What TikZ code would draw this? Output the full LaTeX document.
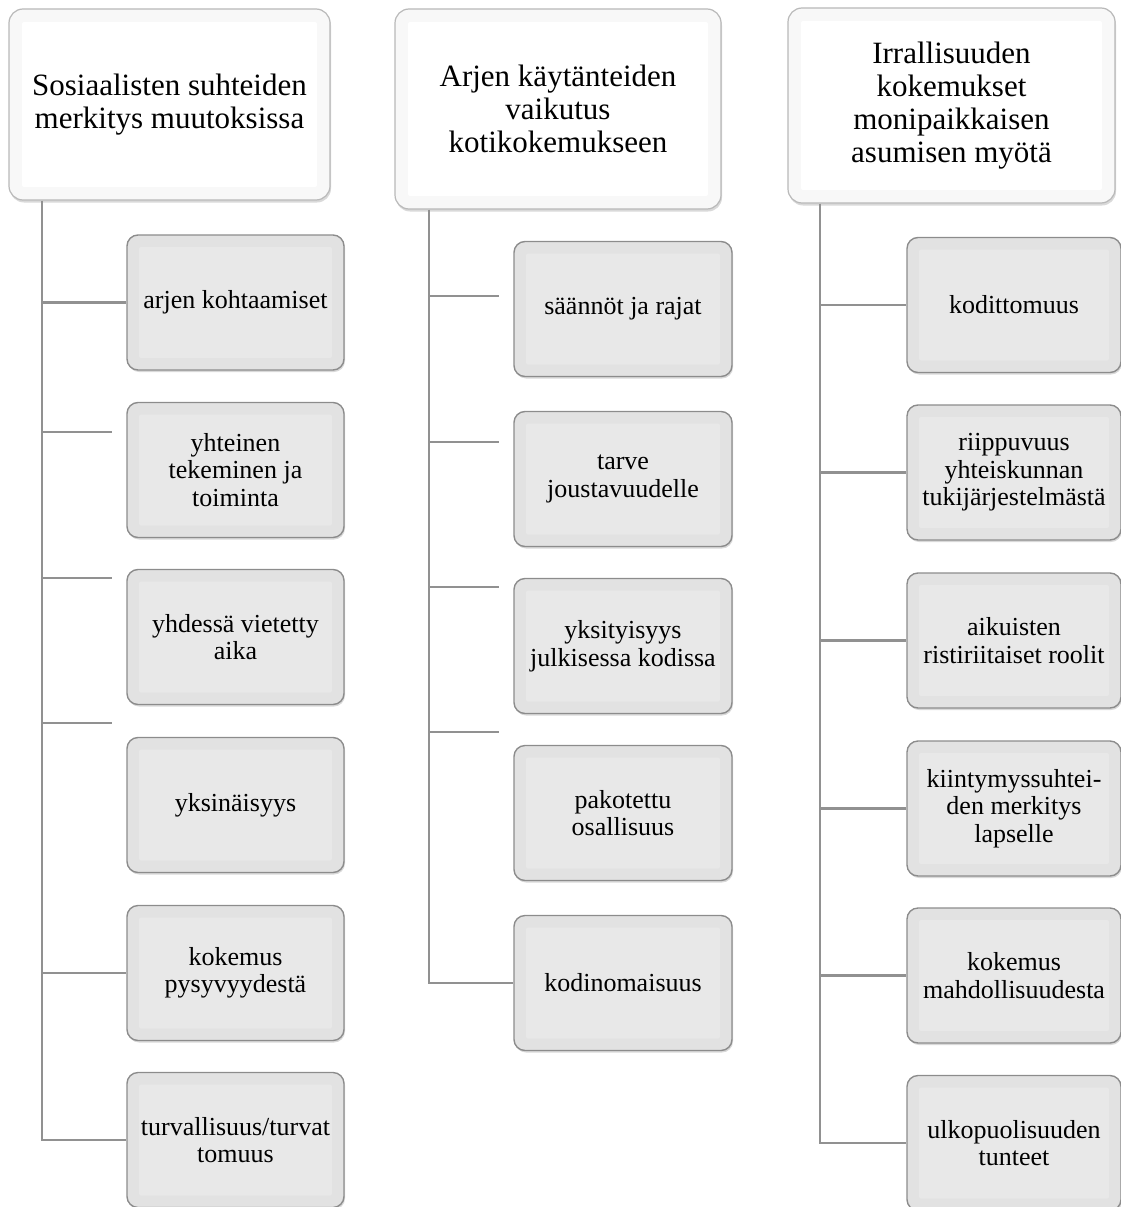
\documentclass[tikz,border=0pt]{standalone}
\usepackage{fontspec}
\setmainfont{Liberation Serif}
\usepackage{tikz}
\usetikzlibrary{shadows}

\definecolor{lineg}{RGB}{145,145,145}
\definecolor{boxband}{RGB}{226,226,226}
\definecolor{boxin}{RGB}{232,232,232}
\definecolor{boxedge}{RGB}{140,140,140}
\definecolor{headedge}{RGB}{185,185,185}
\definecolor{headband}{RGB}{248,248,248}

\tikzset{
	head/.style={draw=headedge, line width=1.2pt, fill=headband, rounded corners=14pt, align=center,
		font=\fontsize{31}{33}\selectfont, inner sep=0pt,
		drop shadow={shadow xshift=1pt, shadow yshift=-2.5pt, opacity=0.3},
		path picture={\fill[white, rounded corners=2pt] ([shift={(13pt,13pt)}]path picture bounding box.south west)
			rectangle ([shift={(-13pt,-13pt)}]path picture bounding box.north east);}},
	item/.style={draw=boxedge, line width=1.4pt, fill=boxband, rounded corners=11pt, align=center,
		font=\fontsize{26}{27.5}\selectfont, inner sep=0pt,
		minimum height=135pt,
		drop shadow={shadow xshift=1pt, shadow yshift=-2pt, opacity=0.3},
		path picture={\fill[boxin, rounded corners=2pt] ([shift={(12pt,12pt)}]path picture bounding box.south west)
			rectangle ([shift={(-12pt,-12pt)}]path picture bounding box.north east);}},
	link/.style={draw=lineg, line width=2.2pt},
}

\begin{document}
\begin{tikzpicture}[x=1pt, y=-1pt]
	\useasboundingbox (0,0) rectangle (1121,1207);

	\node[head, minimum width=321pt, minimum height=191pt] (H1) at (169.5,104.5) {Sosiaalisten suhteiden\\merkitys muutoksissa};	% headers
	\node[head, minimum width=326pt, minimum height=200pt] (H2) at (558,109) {Arjen käytänteiden\\vaikutus\\kotikokemukseen};
	\node[head, minimum width=327pt, minimum height=195pt] (H3) at (951.5,105.5) {Irrallisuuden\\kokemukset\\monipaikkaisen\\asumisen myötä};

	\node[item, minimum width=217pt] (a1) at (235.5,302.5) {arjen kohtaamiset};	% first column
	\node[item, minimum width=217pt] (a2) at (235.5,470) {yhteinen\\tekeminen ja\\toiminta};
	\node[item, minimum width=217pt] (a3) at (235.5,637) {yhdessä vietetty\\aika};
	\node[item, minimum width=217pt] (a4) at (235.5,805) {yksinäisyys};
	\node[item, minimum width=217pt] (a5) at (235.5,973) {kokemus\\pysyvyydestä};
	\node[item, minimum width=217pt] (a6) at (235.5,1140) {turvallisuus/turvat\\tomuus};

	\node[item, minimum width=218pt] (b1) at (623,309) {\raisebox{-3pt}{säännöt ja rajat}};	% second column
	\node[item, minimum width=218pt] (b2) at (623,479) {tarve\\joustavuudelle};
	\node[item, minimum width=218pt] (b3) at (623,646) {yksityisyys\\julkisessa kodissa};
	\node[item, minimum width=218pt] (b4) at (623,813) {pakotettu\\osallisuus};
	\node[item, minimum width=218pt] (b5) at (623,983) {kodinomaisuus};

	\node[item, minimum width=214pt] (c1) at (1014,305) {kodittomuus};	% third column
	\node[item, minimum width=214pt] (c2) at (1014,472.5) {riippuvuus\\yhteiskunnan\\tukijärjestelmästä};
	\node[item, minimum width=214pt] (c3) at (1014,640.5) {aikuisten\\ristiriitaiset roolit};
	\node[item, minimum width=214pt] (c4) at (1014,808.5) {kiintymyssuhtei-\\den merkitys\\lapselle};
	\node[item, minimum width=214pt] (c5) at (1014,975.5) {kokemus\\mahdollisuudesta};
	\node[item, minimum width=214pt] (c6) at (1014,1143) {ulkopuolisuuden\\tunteet};

	\coordinate (r1) at (42,0);	% spines
	\coordinate (r2) at (429,0);
	\coordinate (r3) at (820,0);
	\coordinate (t2) at (112,432);	% loose ticks
	\coordinate (t3) at (112,578);
	\coordinate (t4) at (112,723);
	\coordinate (u1) at (499,296);
	\coordinate (u2) at (499,442);
	\coordinate (u3) at (499,587);
	\coordinate (u4) at (499,732);

	\draw[link] (H1.south -| r1) |- (a6.west);
	\draw[link] (a1.west -| r1) -- (a1.west);
	\draw[link] (a5.west -| r1) -- (a5.west);
	\foreach \t in {t2,t3,t4}
		\draw[link] (\t -| r1) -- (\t);

	\draw[link] (H2.south -| r2) |- (b5.west);
	\foreach \t in {u1,u2,u3,u4}
		\draw[link] (\t -| r2) -- (\t);

	\draw[link] (H3.south -| r3) |- (c6.west);
	\foreach \n in {c1,c2,c3,c4,c5}
		\draw[link] (\n.west -| r3) -- (\n.west);
\end{tikzpicture}
\end{document}
